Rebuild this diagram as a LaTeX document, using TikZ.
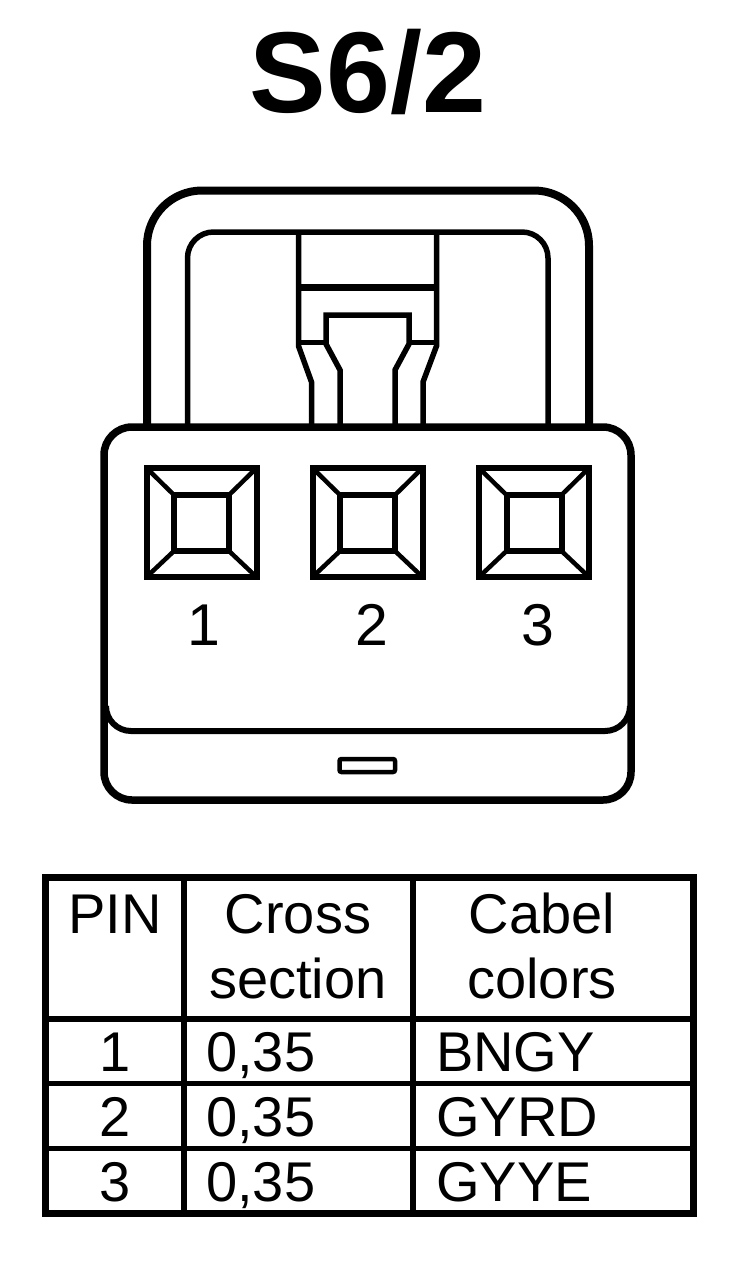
\documentclass[tikz,border=0pt]{standalone}
\usepackage{fontspec}
\setmainfont{Liberation Sans}
\tikzset{
    cell/.style={font=\fontsize{56}{56}\selectfont, inner sep=0pt, anchor=base},
    cellleft/.style={cell, anchor=base west},
    socket/.style={line width=6pt},
    bevel/.style={line width=4.5pt}
}
\begin{document}
\begin{tikzpicture}[x=1pt,y=-1pt]
    \useasboundingbox (0,0) rectangle (752,1262);
    \node[inner sep=0pt, anchor=base, font=\fontsize{115}{115}\selectfont\bfseries] (title) at (368,112) {S6/2};
    % handle
    \draw[line width=8pt, rounded corners=55pt] (147,427) -- (147,190.5) -- (589,190.5) -- (589,427);
    \draw[line width=5.5pt, rounded corners=26pt] (187.5,427) -- (187.5,232) -- (548,232) -- (548,427);
    % latch
    \draw[line width=5.5pt] (298.5,232) -- (298.5,346) -- (311.5,382) -- (311.5,427);
    \draw[line width=5.5pt] (436.5,232) -- (436.5,346) -- (423,382) -- (423,427);
    \draw[line width=7pt] (298.5,287.5) -- (436.5,287.5);
    \draw[line width=5.5pt] (298.5,342.5) -- (326,342.5);
    \draw[line width=5.5pt] (436.5,342.5) -- (409,342.5);
    \draw[line width=5.5pt] (340,427) -- (340,370) -- (326,344) -- (326,315) -- (409,315) -- (409,344) -- (395,370) -- (395,427);
    % body
    \draw[line width=7.5pt, rounded corners=28pt, fill=white] (104,427) rectangle (631,800);
    \draw[line width=6pt] (106,706) arc[start angle=180, end angle=90, radius=25] -- (605,731) arc[start angle=90, end angle=0, radius=25];
    \draw[line width=4.5pt, rounded corners=2pt] (339.5,759) rectangle (395,772);
    % sockets
    \foreach \cx/\pinnum/\lblx in {201.5/1/204, 367.5/2/372, 534/3/537.5} {
        \draw[socket] (\cx-55,468) rectangle (\cx+55,577);
        \draw[socket] (\cx-27.5,495) rectangle (\cx+27.5,551);
        \draw[bevel] (\cx-55,468) -- (\cx-27.5,495);
        \draw[bevel] (\cx+55,468) -- (\cx+27.5,495);
        \draw[bevel] (\cx-55,577) -- (\cx-27.5,551);
        \draw[bevel] (\cx+55,577) -- (\cx+27.5,551);
        \node[cell, font=\fontsize{59}{59}\selectfont] (pin\pinnum) at (\lblx,645) {\pinnum};
    }
    % table
    \draw[line width=7pt] (45,877) rectangle (693,1213);
    \draw[line width=5.5pt] (184,877) -- (184,1213);
    \draw[line width=5.5pt] (413,877) -- (413,1213);
    \draw[line width=5.5pt] (45,1019) -- (693,1019);
    \draw[line width=5pt] (45,1083) -- (693,1083);
    \draw[line width=5pt] (45,1148) -- (693,1148);
    \node[cell] (pinhead) at (115,933) {PIN};
    \node[cell] (crosshead) at (298,933) {Cross};
    \node[cell] (sectionhead) at (298,998) {section};
    \node[cell] (cabelhead) at (542,933) {Cabel};
    \node[cell] (colorhead) at (542,998) {colors};
    \foreach \rowy/\rownum/\wire in {1071/1/BNGY, 1136/2/GYRD, 1201/3/GYYE} {
        \node[cell] (num\rownum) at (115,\rowy) {\rownum};
        \node[cellleft] (size\rownum) at (206,\rowy) {0,35};
        \node[cellleft] (wire\rownum) at (436,\rowy) {\wire};
    }
\end{tikzpicture}
\end{document}
